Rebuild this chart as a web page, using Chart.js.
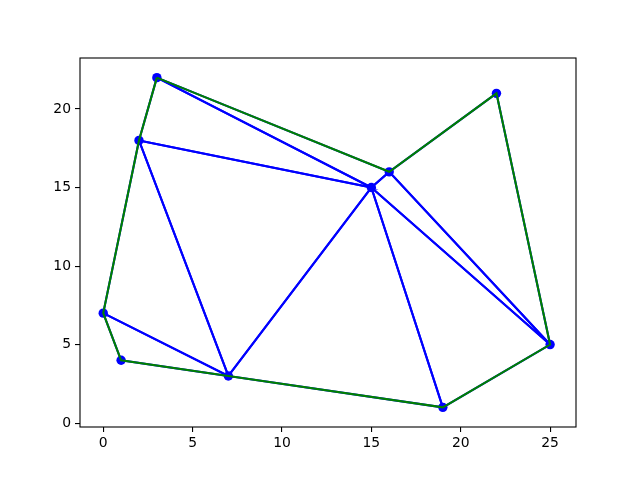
<!DOCTYPE html>
<html>
<head>
<meta charset="utf-8">
<script src="https://cdn.jsdelivr.net/npm/chart.js@4"></script>
<style>
  html, body { margin: 0; padding: 0; background: #fff; }
  canvas { display: block; }
</style>
</head>
<body>
<canvas id="chart" width="640" height="480"></canvas>
<script>
const xs = [0, 1, 2, 3, 7, 15, 16, 19, 22, 25];
const ys = [7, 4, 18, 22, 3, 15, 16, 1, 21, 5];
// point indices of each triangle
const triangles = [[0, 1, 4], [0, 2, 4], [2, 4, 5], [2, 3, 5], [3, 5, 6], [5, 6, 9], [6, 8, 9], [5, 7, 9], [4, 5, 7]];
// outline, in drawing order
const hull = [3, 6, 8, 9, 7, 4, 1, 0, 2, 3];
const xTicks = [0, 5, 10, 15, 20, 25];
const yTicks = [0, 5, 10, 15, 20];

const pt = i => ({ x: xs[i], y: ys[i] });

const datasets = [];

// green outline on top
datasets.push({
  data: hull.map(pt),
  showLine: true,
  borderColor: "#008000",
  borderWidth: 2.1,
  pointRadius: 0,
  order: 0
});

// the points
datasets.push({
  data: xs.map((_, i) => pt(i)),
  showLine: false,
  backgroundColor: "#0000ff",
  borderColor: "#0000ff",
  borderWidth: 0,
  pointRadius: 4.7,
  order: 1
});

// triangle edges
triangles.forEach(t => {
  datasets.push({
    data: [...t, t[0]].map(pt),
    showLine: true,
    borderColor: "#0000ff",
    borderWidth: 2.1,
    pointRadius: 0,
    order: 2
  });
});

const frame = {
  id: "frame",
  afterDatasetsDraw(chart) {
    const { ctx, chartArea: a } = chart;
    ctx.save();
    ctx.strokeStyle = "#000";
    ctx.lineWidth = 1.1;
    ctx.strokeRect(a.left, a.top, a.right - a.left, a.bottom - a.top);
    ctx.restore();
  }
};

const tickFont = { family: "DejaVu Sans", size: 13.9 };
const tickGrid = { drawOnChartArea: false, drawTicks: true, tickLength: 5, color: "#000", lineWidth: 1.1 };

new Chart(document.getElementById("chart"), {
  type: "scatter",
  data: { datasets },
  plugins: [frame],
  options: {
    responsive: false,
    animation: false,
    layout: { padding: { left: 0, top: 58, right: 64, bottom: 0 } },
    plugins: { legend: { display: false }, tooltip: { enabled: false } },
    scales: {
      x: {
        type: "linear",
        min: -1.3,
        max: 26.45,
        border: { display: false },
        grid: tickGrid,
        ticks: { color: "#000", font: tickFont, padding: 3, maxRotation: 0 },
        afterBuildTicks: s => { s.ticks = xTicks.map(v => ({ value: v })); },
        afterFit: s => { s.height = 53; }
      },
      y: {
        type: "linear",
        min: -0.25,
        max: 23.25,
        border: { display: false },
        grid: tickGrid,
        ticks: { color: "#000", font: tickFont, padding: 4 },
        afterBuildTicks: s => { s.ticks = yTicks.map(v => ({ value: v })); },
        afterFit: s => { s.width = 80; }
      }
    }
  }
});
</script>
</body>
</html>
